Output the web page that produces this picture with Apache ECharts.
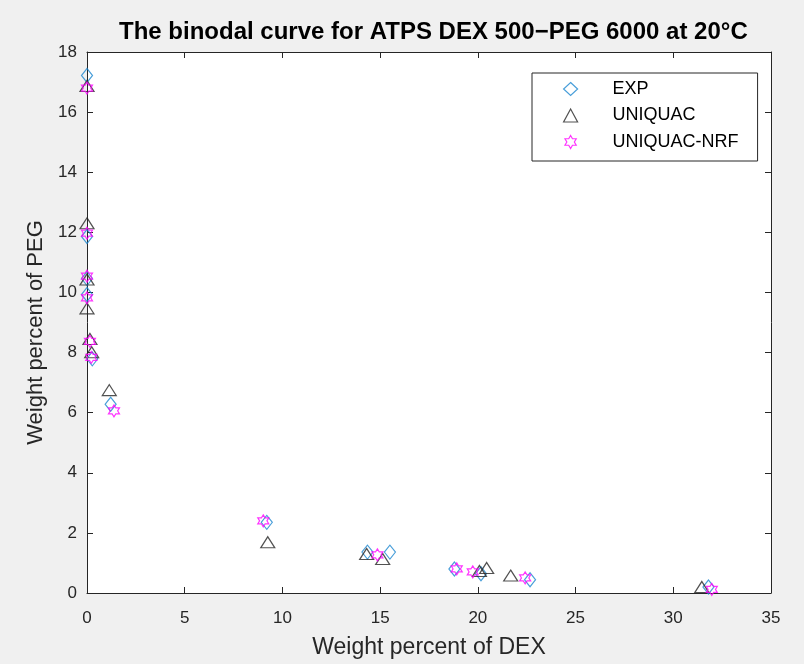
<!DOCTYPE html>
<html>
<head>
<meta charset="utf-8">
<script src="https://cdn.jsdelivr.net/npm/echarts@6/dist/echarts.min.js"></script>
<style>
html,body{margin:0;padding:0;background:#f0f0f0;}
#chart{width:804px;height:664px;}
</style>
</head>
<body>
<div id="chart"></div>
<script>
var titleText = 'The binodal curve for ATPS DEX 500\u2212PEG 6000 at 20\u00B0C';
var xName = 'Weight percent of DEX';
var yName = 'Weight percent of PEG';
var seriesNames = ['EXP', 'UNIQUAC', 'UNIQUAC-NRF'];

var expDEX = [0, 0, 0, 0, 0.27, 1.21, 9.2, 14.35, 15.5, 18.8, 20.16, 22.67, 31.8];
var expPEG = [17.22, 11.86, 10.46, 9.93, 7.79, 6.28, 2.35, 1.36, 1.36, 0.8, 0.64, 0.44, 0.2];

var uniDEX = [0, 0, 0, 0, 0.15, 0.24, 1.14, 9.25, 14.31, 15.13, 20.08, 20.45, 21.68, 31.46];
var uniPEG = [16.87, 12.3, 10.43, 9.47, 8.45, 8.01, 6.75, 1.69, 1.3, 1.13, 0.73, 0.83, 0.58, 0.2];

var nrfDEX = [0, 0, 0, 0, 0.15, 0.22, 1.38, 9.02, 14.86, 18.92, 19.74, 22.42, 31.97];
var nrfPEG = [16.8, 11.97, 10.54, 9.82, 8.37, 7.84, 6.06, 2.4, 1.27, 0.8, 0.7, 0.5, 0.12];

function pairs(xs, ys){ var out=[]; for(var i=0;i<xs.length;i++) out.push([xs[i], ys[i]]); return out; }

var hexagram = 'path://M10 0 L12.887 5 L18.66 5 L15.774 10 L18.66 15 L12.887 15 L10 20 L7.113 15 L1.34 15 L4.226 10 L1.34 5 L7.113 5 Z';

var colors = ['#1a86cf', '#262626', '#ff00ff'];
var axisColor = '#262626';
var font = '"Liberation Sans", Arial, Helvetica, sans-serif';

var chart = echarts.init(document.getElementById('chart'), null, {renderer:'canvas'});

function styleFor(i){ return {color:'transparent', borderColor:colors[i], borderWidth:1.2}; }

var option = {
  backgroundColor: '#f0f0f0',
  animation: false,
  title: {
    text: titleText, left: 114, top: 15,
    textStyle: {fontFamily: font, fontSize: 24, fontWeight: 'bold', color: '#000'}
  },
  legend: {
    left: 532, top: 73, orient: 'vertical',
    padding: [7, 19, 10, 31],
    itemWidth: 14, itemHeight: 13, itemGap: 8.5,
    borderColor: axisColor, borderWidth: 1, backgroundColor: '#fff',
    textStyle: {fontFamily: font, fontSize: 18, color: '#000', padding: [0,0,0,30]},
    data: seriesNames.map(function(n,i){ return {name:n, itemStyle: styleFor(i)}; })
  },
  grid: {left: 87, right: 33, top: 52, bottom: 70, show: true, backgroundColor: '#fff', borderWidth: 0},
  xAxis: [{
    type: 'value', min: 0, max: 35, interval: 5, position: 'bottom',
    name: xName, nameLocation: 'middle', nameGap: 43,
    nameTextStyle: {fontFamily: font, fontSize: 23, color: axisColor},
    axisLine: {show: true, lineStyle: {color: axisColor, width: 1}},
    axisTick: {show: true, inside: true, length: 6, lineStyle: {color: axisColor}},
    axisLabel: {fontFamily: font, fontSize: 17, color: axisColor, margin: 17},
    splitLine: {show: false}
  },{
    type: 'value', min: 0, max: 35, interval: 5, position: 'top',
    axisLine: {show: true, onZero:false, lineStyle: {color: axisColor, width: 1}},
    axisTick: {show: true, inside: true, length: 6, lineStyle: {color: axisColor}},
    axisLabel: {show: false}, splitLine: {show: false}
  }],
  yAxis: [{
    type: 'value', min: 0, max: 18, interval: 2, position: 'left',
    name: yName, nameLocation: 'middle', nameGap: 37,
    nameTextStyle: {fontFamily: font, fontSize: 22, color: axisColor, padding: [0, 20, 0, 0]},
    axisLine: {show: true, lineStyle: {color: axisColor, width: 1}},
    axisTick: {show: true, inside: true, length: 6, lineStyle: {color: axisColor}},
    axisLabel: {fontFamily: font, fontSize: 17, color: axisColor, margin: 10},
    splitLine: {show: false}
  },{
    type: 'value', min: 0, max: 18, interval: 2, position: 'right',
    axisLine: {show: true, onZero:false, lineStyle: {color: axisColor, width: 1}},
    axisTick: {show: true, inside: true, length: 6, lineStyle: {color: axisColor}},
    axisLabel: {show: false}, splitLine: {show: false}
  }],
  series: [
    {name: seriesNames[0], type: 'scatter', xAxisIndex: 0, yAxisIndex: 0, symbol: 'diamond', symbolSize: [11, 14],
     itemStyle: styleFor(0), data: pairs(expDEX, expPEG), z: 3},
    {name: seriesNames[1], type: 'scatter', xAxisIndex: 0, yAxisIndex: 0, symbol: 'triangle', symbolSize: [14, 11],
     itemStyle: styleFor(1), data: pairs(uniDEX, uniPEG), z: 4},
    {name: seriesNames[2], type: 'scatter', xAxisIndex: 0, yAxisIndex: 0, symbol: hexagram, symbolSize: [11, 12],
     itemStyle: styleFor(2), data: pairs(nrfDEX, nrfPEG), z: 5}
  ]
};
chart.setOption(option);
</script>
</body>
</html>
